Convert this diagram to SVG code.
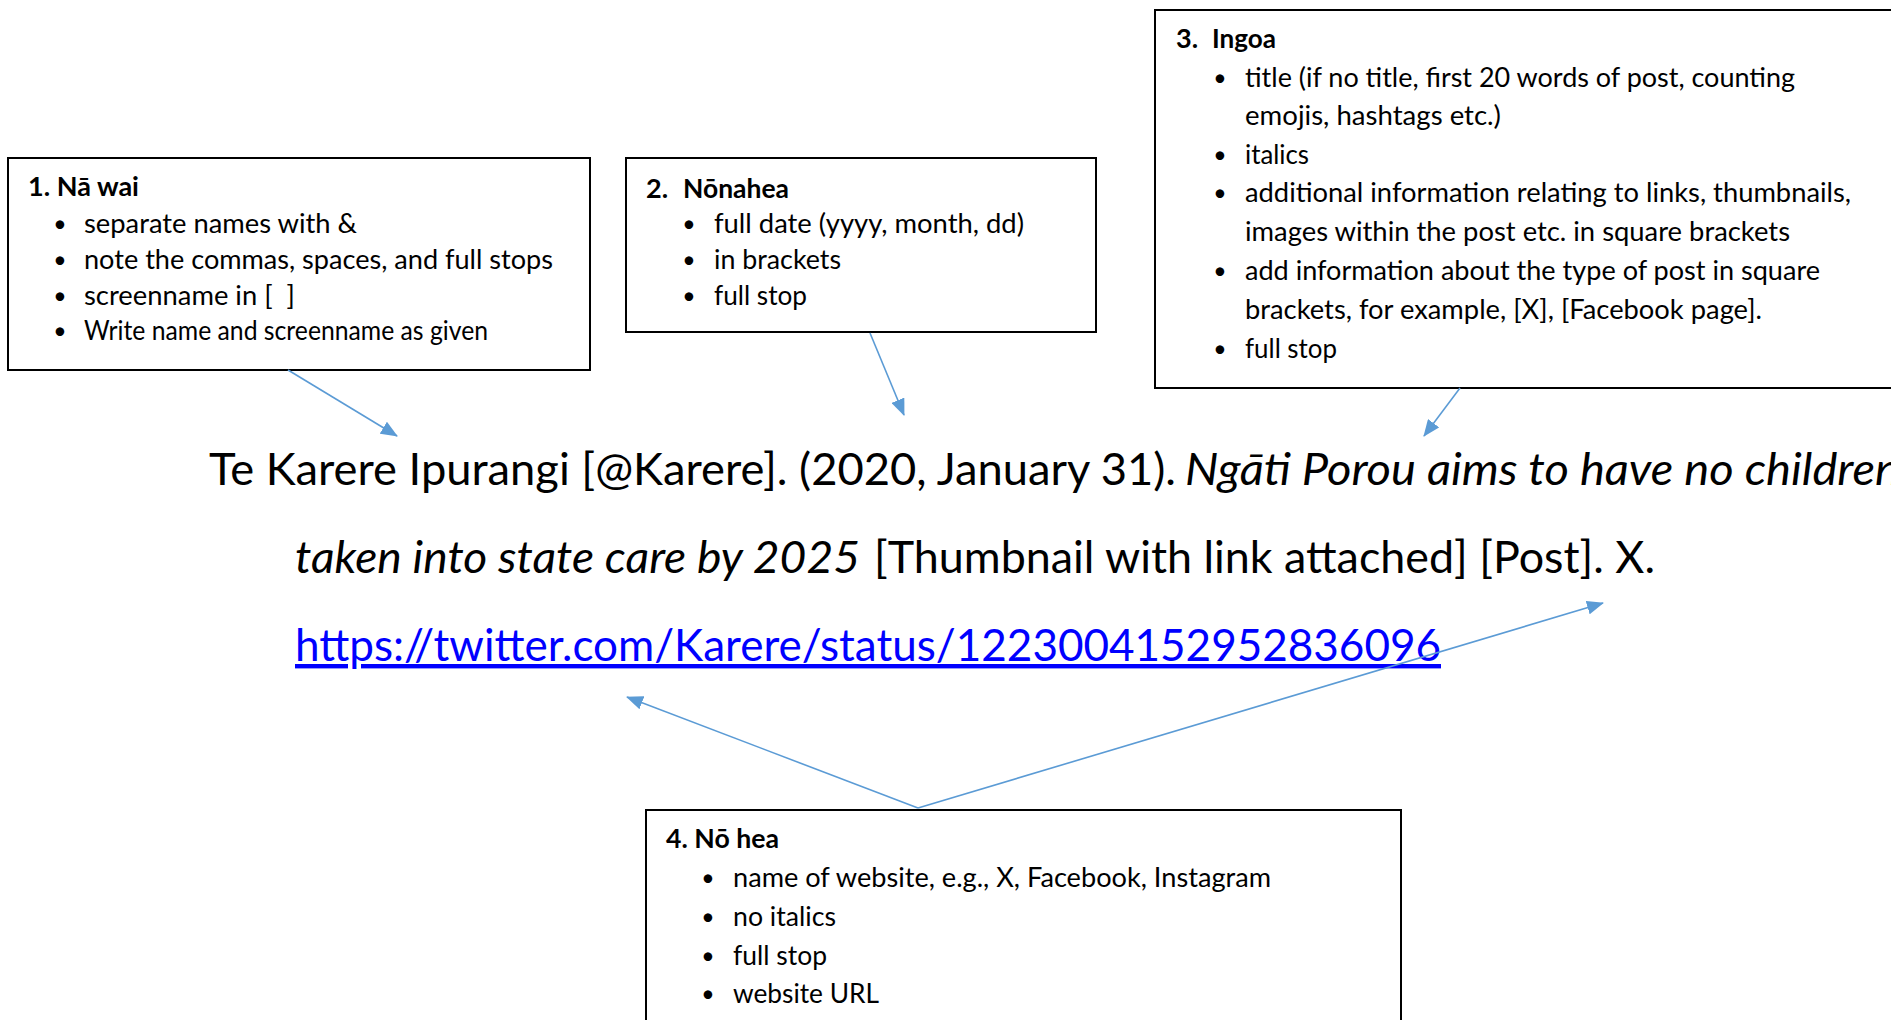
<svg xmlns="http://www.w3.org/2000/svg" width="1891" height="1020" viewBox="0 0 1891 1020">
<style>
.bg{fill:#ffffff}
.box{fill:#ffffff;stroke:#000000;stroke-width:2}
.t{font-family:Lato,"Liberation Sans",sans-serif;font-size:27px;fill:#000000;white-space:pre}
.b{font-weight:bold}
.bul{text-anchor:middle;font-size:23px}
.cit{font-family:Lato,"Liberation Sans",sans-serif;font-size:44px;fill:#000000;white-space:pre}
.it{font-style:italic}
.url{fill:#0000ff;text-decoration:underline}
.conn{stroke:#5b9bd5;stroke-width:1.6;fill:none;marker-end:url(#ah)}
</style>
<defs>
<marker id="ah" markerUnits="userSpaceOnUse" markerWidth="17" markerHeight="14" refX="16" refY="7" orient="auto">
<path d="M0,0 L17,7 L0,14 Z" fill="#5b9bd5"/>
</marker>
</defs>
<rect class="bg" x="0" y="0" width="1891" height="1020"/>

<g id="node-1">
<rect class="box" x="8" y="158" width="582" height="212"/>
<text class="t b" x="28" y="196" textLength="111" lengthAdjust="spacingAndGlyphs">1. Nā wai</text>
<text class="t bul" x="60" y="232">•</text>
<text class="t" x="84" y="233" textLength="273" lengthAdjust="spacingAndGlyphs">separate names with &amp;</text>
<text class="t bul" x="60" y="268">•</text>
<text class="t" x="84" y="269" textLength="469" lengthAdjust="spacingAndGlyphs">note the commas, spaces, and full stops</text>
<text class="t bul" x="60" y="304">•</text>
<text class="t" x="84" y="305" textLength="211" lengthAdjust="spacingAndGlyphs">screenname in [  ]</text>
<text class="t bul" x="60" y="339">•</text>
<text class="t" x="84" y="340" textLength="404" lengthAdjust="spacingAndGlyphs">Write name and screenname as given</text>
</g>

<g id="node-2">
<rect class="box" x="626" y="158" width="470" height="174"/>
<text class="t b" x="646" y="198">2.</text>
<text class="t b" x="683" y="198" textLength="106" lengthAdjust="spacingAndGlyphs">Nōnahea</text>
<text class="t bul" x="689" y="232">•</text>
<text class="t" x="714" y="233" textLength="310" lengthAdjust="spacingAndGlyphs">full date (yyyy, month, dd)</text>
<text class="t bul" x="689" y="268">•</text>
<text class="t" x="714" y="269" textLength="127" lengthAdjust="spacingAndGlyphs">in brackets</text>
<text class="t bul" x="689" y="304">•</text>
<text class="t" x="714" y="305" textLength="93" lengthAdjust="spacingAndGlyphs">full stop</text>
</g>

<g id="node-3">
<rect class="box" x="1155" y="10" width="760" height="378"/>
<text class="t b" x="1176" y="48">3.</text>
<text class="t b" x="1212" y="48" textLength="64" lengthAdjust="spacingAndGlyphs">Ingoa</text>
<text class="t bul" x="1220" y="86">•</text>
<text class="t" x="1245" y="87" textLength="550" lengthAdjust="spacingAndGlyphs">title (if no title, first 20 words of post, counting</text>
<text class="t" x="1245" y="125" textLength="256" lengthAdjust="spacingAndGlyphs">emojis, hashtags etc.)</text>
<text class="t bul" x="1220" y="163">•</text>
<text class="t" x="1245" y="164" textLength="64" lengthAdjust="spacingAndGlyphs">italics</text>
<text class="t bul" x="1220" y="201">•</text>
<text class="t" x="1245" y="202" textLength="606" lengthAdjust="spacingAndGlyphs">additional information relating to links, thumbnails,</text>
<text class="t" x="1245" y="241" textLength="545" lengthAdjust="spacingAndGlyphs">images within the post etc. in square brackets</text>
<text class="t bul" x="1220" y="279">•</text>
<text class="t" x="1245" y="280" textLength="575" lengthAdjust="spacingAndGlyphs">add information about the type of post in square</text>
<text class="t" x="1245" y="319" textLength="517" lengthAdjust="spacingAndGlyphs">brackets, for example, [X], [Facebook page].</text>
<text class="t bul" x="1220" y="357">•</text>
<text class="t" x="1245" y="358" textLength="92" lengthAdjust="spacingAndGlyphs">full stop</text>
</g>

<g id="node-4">
<rect class="box" x="646" y="810" width="755" height="230"/>
<text class="t b" x="666" y="848" textLength="113" lengthAdjust="spacingAndGlyphs">4. Nō hea</text>
<text class="t bul" x="708" y="886">•</text>
<text class="t" x="733" y="887" textLength="538" lengthAdjust="spacingAndGlyphs">name of website, e.g., X, Facebook, Instagram</text>
<text class="t bul" x="708" y="925">•</text>
<text class="t" x="733" y="926" textLength="103" lengthAdjust="spacingAndGlyphs">no italics</text>
<text class="t bul" x="708" y="964">•</text>
<text class="t" x="733" y="965" textLength="94" lengthAdjust="spacingAndGlyphs">full stop</text>
<text class="t bul" x="708" y="1002">•</text>
<text class="t" x="733" y="1003" textLength="146" lengthAdjust="spacingAndGlyphs">website URL</text>
</g>

<g id="citation">
<text class="cit" x="209" y="485" textLength="967" lengthAdjust="spacingAndGlyphs">Te Karere Ipurangi [@Karere]. (2020, January 31).</text>
<text class="cit it" x="1185" y="485" textLength="715" lengthAdjust="spacingAndGlyphs">Ngāti Porou aims to have no children</text>
<text class="cit it" x="295" y="573" textLength="565" lengthAdjust="spacingAndGlyphs">taken into state care by 2025</text>
<text class="cit" x="874" y="573" textLength="781" lengthAdjust="spacingAndGlyphs">[Thumbnail with link attached] [Post]. X.</text>
<text class="cit url" x="295" y="661" textLength="1146" lengthAdjust="spacingAndGlyphs">https://twitter.com/Karere/status/1223004152952836096</text>
</g>

<g id="connectors">
<line class="conn" x1="288" y1="370" x2="397" y2="436"/>
<line class="conn" x1="870" y1="333" x2="904" y2="415"/>
<line class="conn" x1="1460" y1="388" x2="1424" y2="436"/>
<line class="conn" x1="918" y1="808" x2="627" y2="697"/>
<line class="conn" x1="918" y1="808" x2="1603" y2="603"/>
</g>
</svg>
